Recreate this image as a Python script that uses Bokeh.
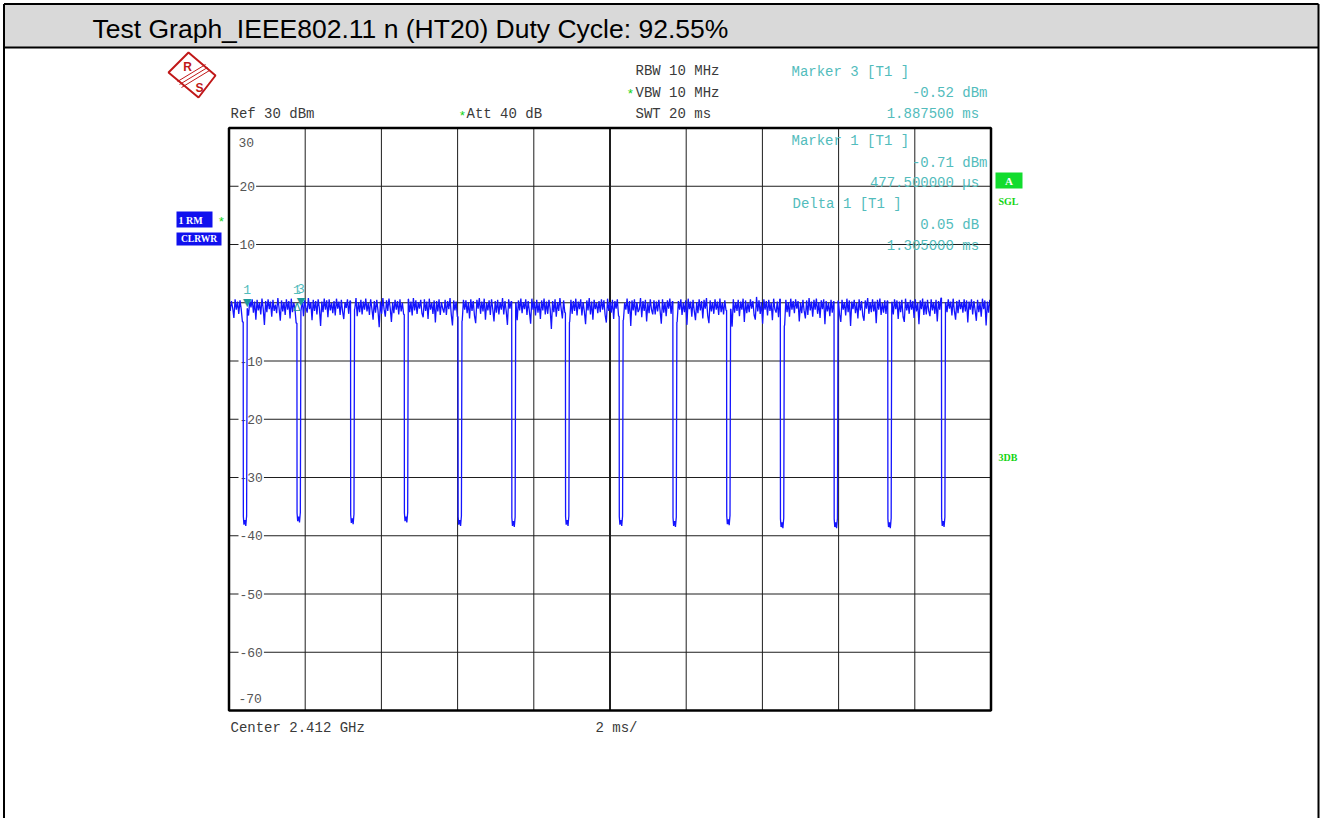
from bokeh.plotting import figure
from bokeh.models import Range1d
from bokeh.core.properties import value
from bokeh.embed import file_html
from bokeh.resources import INLINE

# ---------------- data ----------------
title_text = "Test Graph_IEEE802.11 n (HT20) Duty Cycle: 92.55%"
sweep_ms = 20.0
ref_top_dbm, ref_bottom_dbm = 30, -70
x_grid_ms = [2, 4, 6, 8, 10, 12, 14, 16, 18]
y_grid_dbm = [20, 10, 0, -10, -20, -30, -40, -50, -60]
y_label_dbm = [20, 10, -10, -20, -30, -40, -50, -60]
y_label_text = ["20", "10", "-10", "-20", "-30", "-40", "-50", "-60"]

# trace level while the transmitter is on, 625 sweep points, in tenths of a dB
on_level_tenth_db = [
    5, -14, 3, -9, -26, 6, -12, 2, -19, 4, -11, -33, 7, -15, 1, -10,
    -22, 4, -8, 6, -17, 2, -29, 5, -13, 0, -20, 7, -10, -38, 3, -16,
    6, -11, 2, -24, 5, -14, -3, -18, 8, -9, -31, 4, -15, 1, -21, 6,
    -12, 3, -27, 7, -16, 0, -10, -35, 5, -19, 2, -13, 6, -23, 4, -8,
    -17, 8, -11, 1, -30, 5, -14, 3, -20, 6, -9, -40, 2, -16, 7, -12,
    4, -25, 6, -13, 0, -18, 3, -22, 7, -10, 2, -21, 5, -15, -28, 1,
    -9, 6, -19, 3, -14, -36, 4, -11, 8, -23, 1, -16, 5, -20, 2, -12,
    7, -15, 0, -21, 6, -10, -29, 3, -17, 5, -13, -42, 2, -19, 8, -11,
    -24, 4, -14, 7, -9, -33, 1, -18, 5, -12, 3, -20, 6, -15, 0, -20,
    3, -11, -37, 6, -16, 2, -22, 8, -13, 4, -19, 1, -10, 5, -18, -25,
    6, -14, 2, -28, 7, -12, 0, -19, 4, -34, 3, -15, 6, -21, 1, -10,
    -17, 5, -21, 3, -11, 8, -20, -39, 4, -13, 2, -24, 7, -16, 0, -31,
    5, -12, 4, -18, 1, -27, 6, -14, 3, -22, -35, 5, -10, 8, -19, 2,
    -15, 7, -29, 0, -13, 4, -21, 6, -11, -32, 3, -17, 5, -20, 1, -12,
    8, -20, 3, -14, -38, 6, -10, 2, -23, 5, -16, 0, -30, 4, -13, 7,
    -18, 1, -11, 6, -21, 3, -15, -36, 7, -12, 2, -22, 5, -17, 0, -28,
    4, -13, 7, -20, 2, -19, 5, -11, -45, 3, -16, 6, -24, 1, -14, 8,
    -10, -27, 4, -17, 6, -12, 0, -33, 5, -19, 3, -14, 7, -22, 2, -11,
    6, -22, 1, -15, -37, 4, -13, 8, -20, 2, -29, 5, -11, 0, -18, 3,
    -16, 6, -12, 4, -21, -34, 7, -14, 1, -17, 5, -28, 3, -10, 6, -23,
    2, -15, 5, -30, 0, -12, 7, -19, 3, -40, 4, -13, 6, -22, 1, -16,
    -11, 8, -25, 3, -14, 5, -32, 0, -18, 6, -12, -20, 4, -20, 2, -15,
    5, -13, -36, 6, -17, 1, -23, 4, -10, 7, -19, 2, -15, 5, -19, -33,
    3, -12, 6, -21, 0, -16, 4, -38, 7, -11, 2, -24, 5, -14, -30, 1,
    -18, 6, -13, 3, -27, 5, -10, 8, -22, -35, 4, -15, 1, -19, 6, -12,
    2, -21, 7, -16, 0, -20, 4, -13, 5, -28, 3, -11, -41, 6, -17, 1,
    -14, 5, -23, 2, -12, 7, -33, 4, -18, 0, -16, 6, -10, 3, -21, -29,
    10, -15, 4, -19, 1, -36, 6, -12, 3, -22, 5, -14, 0, -30, 7, -11,
    -17, 2, -25, 6, -13, 4, -20, -39, 5, -16, 1, -24, 7, -12, 3, -18,
    6, -10, 3, -32, 0, -18, 5, -14, -27, 4, -21, 8, -13, 2, -24, 5,
    -12, 7, -19, 1, -26, 4, -11, 6, -37, 3, -15, 0, -23, 5, -17, 2,
    -19, 6, -14, 3, -20, -33, 5, -12, 1, -22, 7, -16, 4, -40, 2, -11,
    5, -18, 0, -27, 6, -13, 3, -22, -31, 4, -10, 8, -19, 1, -16, 6,
    -15, 2, -35, 5, -12, 7, -21, 0, -17, 4, -19, 3, -14, 6, -38, 1,
    -20, 6, -11, 4, -28, 2, -16, 5, -24, -33, 7, -13, 1, -19, 5, -12,
    3, -26, 6, -15, 0, -37, 4, -11, 7, -21, 2, -20, 5, -14, -23, 6,
    -13, 1, -19, 5, -32, 3, -12, 8, -25, 4, -17, 0, -16, 6, -10, 2,
    -22, 7, -14, -29, 3, -18, 5, -11, 1, -17, 6, -15, 4, -34, 2, -12,
    6, -20, 3, -13, -31, 5, -16, 0, -24, 7, -11, 4, -39, 2, -17, 5,
    -10,
]

# transmitter-off gaps (fall time and lowest level of every gap)
dip_fall_ms = [0.3725, 1.7825, 3.19, 4.60, 6.01, 7.42, 8.83,
               10.24, 11.65, 13.06, 14.47, 15.88, 17.29, 18.70]
dip_floor_dbm = [-38.3, -37.7, -38.0, -37.7, -38.3, -38.5, -38.3,
                 -38.3, -38.5, -38.2, -38.7, -38.7, -38.7, -38.5]
off_time_ms = 0.105
dip_shape_dt = [0.004, 0.02, 0.045, 0.068, 0.082, 0.09]
dip_shape_dv = [1.6, 0.2, 1.0, 0.0, 1.1, 1.7]

marker_label = ["1", "3"]
marker_ms = [0.4775, 1.8875]
marker_dbm = [-0.71, -0.52]
delta_label = ["1"]
delta_ms = [1.7825]
delta_dbm = [-0.66]

# ---------------- trace construction ----------------
on_level_dbm = [v / 10.0 for v in on_level_tenth_db]
n = len(on_level_dbm)
noise_t = [i * sweep_ms / (n - 1) for i in range(n)]
def in_gap(t):
    return any(f - 1e-9 <= t <= f + off_time_ms + 1e-9 for f in dip_fall_ms)
on_pts = [(t, v) for t, v in zip(noise_t, on_level_dbm) if not in_gap(t)]
pts = list(on_pts)
for f, fl in zip(dip_fall_ms, dip_floor_dbm):
    before = [v for (t, v) in on_pts if t < f]
    after = [v for (t, v) in on_pts if t > f + off_time_ms]
    pts.append((f, before[-1] if before else on_level_dbm[0]))
    for dt, dv in zip(dip_shape_dt, dip_shape_dv):
        pts.append((f + dt, fl + dv))
    pts.append((f + off_time_ms, after[0] if after else on_level_dbm[-1]))
pts.sort(key=lambda q: q[0])
trace_t = [q[0] for q in pts]
trace_v = [q[1] for q in pts]

# ---------------- layout (page pixel frame) ----------------
W, H = 1320, 818
GX0, GX1 = 228.5, 990.5
GY0, GY1 = 127.5, 710.0

p = figure(width=W, height=H, x_range=Range1d(0, W), y_range=Range1d(H, 0),
           output_backend="svg", toolbar_location=None,
           x_axis_location=None, y_axis_location=None, min_border=0,
           outline_line_color=None, background_fill_color="white",
           border_fill_color="white")
p.grid.visible = False
p.title.visible = False

mspp = sweep_ms / (GX1 - GX0)
dbpp = (ref_top_dbm - ref_bottom_dbm) / (GY1 - GY0)
p.extra_x_ranges = {"ms": Range1d(-GX0 * mspp, sweep_ms + (W - GX1) * mspp)}
p.extra_y_ranges = {"db": Range1d(ref_bottom_dbm - (H - GY1) * dbpp, ref_top_dbm + GY0 * dbpp)}
D = dict(x_range_name="ms", y_range_name="db")

MONO = value("Liberation Mono")
GRAY = "#3a3a3a"
TEAL = "#52bcbc"
GREEN = "#11d411"
BLUE = "#1010ee"
MID = "middle"

# title bar + outer frame
p.quad(left=3.5, right=1318, top=3.5, bottom=47, fill_color="#d9d9d9", line_color=None)
p.segment(x0=[3.5, 1318, 3.5, 3.5], y0=[3.5, 3.5, 3.5, 47], x1=[3.5, 1318, 1318, 1318],
          y1=[H, H, 3.5, 47], line_color="black", line_width=2)
p.text(x=[92], y=[28], text=[title_text], text_font=value("Liberation Sans"),
       text_font_size="26.5px", text_color="black", text_baseline=MID)

# R&S logo
RED = "#c01818"
p.patch(x=[188, 215, 198, 168, 188], y=[52, 75, 97, 72, 52], fill_color=None,
        line_color=RED, line_width=2)
p.segment(x0=[177, 179, 181], y0=[81, 84, 87], x1=[205, 207, 209], y1=[64, 67, 70],
          line_color=RED, line_width=1)
p.text(x=[187, 199], y=[66, 87], text=["R", "S"], text_font=value("Liberation Sans"),
       text_font_style="bold", text_font_size="12px", text_color=RED,
       text_align="center", text_baseline=MID)

# header texts
hx = [635, 635, 635, 230, 466]
hy = [70.5, 92, 113, 113, 113]
htxt = ["RBW  10 MHz", "VBW  10 MHz", "SWT  20 ms", "Ref   30 dBm", "Att   40 dB"]
p.text(x=hx, y=hy, text=htxt, text_font=MONO, text_font_size="14px", text_color=GRAY,
       text_baseline=MID)
p.text(x=[626, 458], y=[94, 115.5], text=["*", "*"], text_font=MONO, text_font_size="13px",
       text_color=GREEN, text_baseline=MID)
p.text(x=[230, 595], y=[727, 727], text=["Center 2.412 GHz", "2 ms/"], text_font=MONO,
       text_font_size="14px", text_color=GRAY, text_baseline=MID)

# graticule grid
p.segment(x0=x_grid_ms, y0=[ref_bottom_dbm] * len(x_grid_ms), x1=x_grid_ms,
          y1=[ref_top_dbm] * len(x_grid_ms), line_color="#1e1e1e",
          line_width=[2 if v == 10 else 1 for v in x_grid_ms], **D)
p.segment(x0=[0] * len(y_grid_dbm), y0=y_grid_dbm, x1=[sweep_ms] * len(y_grid_dbm),
          y1=y_grid_dbm, line_color="#1e1e1e", line_width=1, **D)

# y labels
p.text(x=[238] * len(y_label_dbm), y=y_label_dbm, text=y_label_text, text_font=MONO,
       text_font_size="13px", text_color="#555555", text_baseline=MID,
       background_fill_color="white", padding=1, y_range_name="db")
p.text(x=[238, 238], y=[142, 698], text=["30", "-70"], text_font=MONO, text_font_size="13px",
       text_color="#555555", text_baseline=MID)

# trace
p.line(trace_t, trace_v, line_color="#1414ff", line_width=1.3, **D)

# markers
p.text(x=marker_ms, y=marker_dbm, text=["\u25bc"] * len(marker_ms), text_font=value("DejaVu Sans"),
       text_font_size="11px", text_color="#1b9a9a", text_align="center",
       text_baseline=MID, y_offset=-4, **D)
p.text(x=delta_ms, y=delta_dbm, text=["\u0394"] * len(delta_ms), text_font=value("DejaVu Sans"),
       text_font_size="11px", text_color="#1b9a9a", text_align="center",
       text_baseline=MID, y_offset=1, **D)
p.text(x=marker_ms + delta_ms, y=marker_dbm + delta_dbm, text=marker_label + delta_label,
       text_font=MONO, text_font_size="13px", text_color=TEAL, text_align="center",
       text_baseline=MID, y_offset=-17, **D)

# marker info block
p.text(x=[791, 791, 792], y=[71, 140, 203],
       text=["Marker 3 [T1 ]", "Marker 1 [T1 ]", "Delta 1 [T1 ]"],
       text_font=MONO, text_font_size="14px", text_color=TEAL, text_baseline=MID)
p.text(x=[987] * 6, y=[92, 113, 162, 182, 224, 245],
       text=["-0.52 dBm", "1.887500 ms ", "-0.71 dBm", "477.500000 \u00b5s ",
             "0.05 dB ", "1.305000 ms "],
       text_font=MONO, text_font_size="14px", text_color=TEAL, text_align="right",
       text_baseline=MID)

# graticule border
p.quad(left=[0], right=[sweep_ms], top=[ref_top_dbm], bottom=[ref_bottom_dbm],
       fill_color=None, line_color="black", line_width=2.5, **D)

# side indicators
p.quad(left=[995], right=[1022], top=[172], bottom=[188], fill_color="#12dc2e", line_color=None)
p.text(x=[1008.5], y=[180.5], text=["A"], text_font=value("Liberation Serif"),
       text_font_style="bold", text_font_size="11px", text_color="white",
       text_align="center", text_baseline=MID)
p.text(x=[998, 998], y=[201, 457], text=["SGL", "3DB"], text_font=value("Liberation Serif"),
       text_font_style="bold", text_font_size="10px", text_color=GREEN,
       text_baseline=MID)
p.quad(left=[176, 176], right=[212, 221], top=[211, 232], bottom=[227, 245],
       fill_color=BLUE, line_color=None)
p.text(x=[178], y=[219.5], text=["1 RM"], text_font=value("Liberation Serif"),
       text_font_style="bold", text_font_size="10px", text_color="white",
       text_baseline=MID)
p.text(x=[198.5], y=[238.5], text=["CLRWR"], text_font=value("Liberation Serif"),
       text_font_style="bold", text_font_size="9.5px", text_color="white",
       text_align="center", text_baseline=MID)
p.text(x=[217], y=[221.5], text=["*"], text_font=MONO, text_font_size="13px",
       text_color=GREEN, text_baseline=MID)

open("out.html", "w").write(file_html(p, INLINE))
